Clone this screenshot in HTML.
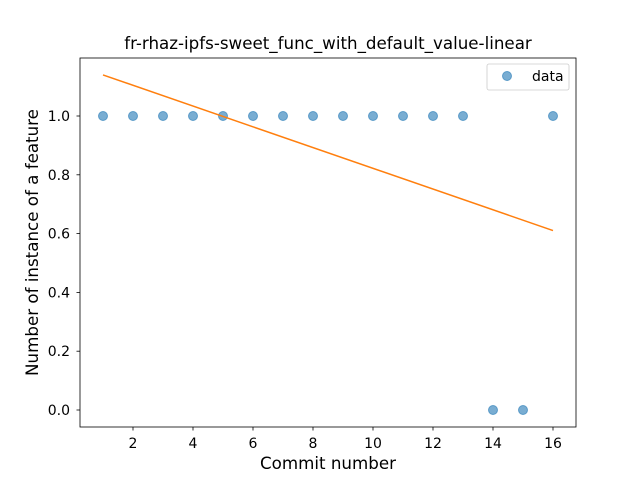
<!DOCTYPE html>
<html><head><meta charset="utf-8"><style>
html,body{margin:0;padding:0;background:#fff;}
svg{display:block;font-family:"DejaVu Sans","Liberation Sans",sans-serif;}
</style></head><body>
<svg id="chart" width="640" height="480" xmlns="http://www.w3.org/2000/svg">
<rect width="640" height="480" fill="#fff"/>
<text x="328" y="49" text-anchor="middle" font-size="16.7">fr-rhaz-ipfs-sweet_func_with_default_value-linear</text>
<g id="plot"></g>
<rect x="80" y="58" width="496" height="369" fill="none" stroke="#000" stroke-width="0.8"/>
<text x="328" y="469" text-anchor="middle" font-size="16.7">Commit number</text>
<text transform="translate(38,242.5) rotate(-90)" text-anchor="middle" font-size="16.7">Number of instance of a feature</text>
<g>
<rect x="487" y="64" width="82" height="26" rx="2" fill="#fff" stroke="#ccc" stroke-width="0.8"/>
<circle cx="507" cy="76" r="4.5" fill="#1f77b4" fill-opacity="0.6" stroke="#1f77b4" stroke-opacity="0.6"/>
<text x="532" y="81" font-size="14">data</text>
</g>
</svg>
<script>
const commits = [1,2,3,4,5,6,7,8,9,10,11,12,13,14,15,16];
const values = [1,1,1,1,1,1,1,1,1,1,1,1,1,0,0,1];
const xTicks = [2,4,6,8,10,12,14,16];
const yTicks = [0.0,0.2,0.4,0.6,0.8,1.0];
const yTickLabels = ["0.0","0.2","0.4","0.6","0.8","1.0"];

const NS = "http://www.w3.org/2000/svg";
const X = v => 103 + (v - 1) * 30;
const Y = v => 410 - v * 294;
const g = document.getElementById('plot');
function mk(tag, attrs){const e=document.createElementNS(NS,tag);for(const k in attrs)e.setAttribute(k,attrs[k]);return e;}

xTicks.forEach((t,i)=>{
  const l=mk('line',{x1:X(t),x2:X(t),y1:427,y2:430.5,stroke:'#000','stroke-width':0.8});
  
  
  g.appendChild(l);
  const tx=mk('text',{x:X(t),y:448,'text-anchor':'middle','font-size':14});
  
  
  tx.textContent=String(t);g.appendChild(tx);
});
yTicks.forEach((t,i)=>{
  const l=mk('line',{x1:76.5,x2:80,y1:Y(t),y2:Y(t),stroke:'#000','stroke-width':0.8});
  
  
  g.appendChild(l);
  const tx=mk('text',{x:70,y:Y(t)+5,'text-anchor':'end','font-size':14});
  
  
  tx.textContent=yTickLabels[i];g.appendChild(tx);
});

commits.forEach((c,i)=>{
  const p=mk('circle',{cx:X(c),cy:Y(values[i]),r:4.5,fill:'#1f77b4','fill-opacity':0.6,stroke:'#1f77b4','stroke-opacity':0.6});
  
  
  g.appendChild(p);
});

// least-squares linear fit
const n=commits.length;
const mx=commits.reduce((a,b)=>a+b,0)/n, my=values.reduce((a,b)=>a+b,0)/n;
let sxy=0,sxx=0;commits.forEach((c,i)=>{sxy+=(c-mx)*(values[i]-my);sxx+=(c-mx)*(c-mx);});
const slope=sxy/sxx, icpt=my-slope*mx;
const x0=commits[0], x1=commits[n-1];
const fl=mk('line',{x1:X(x0),y1:Y(icpt+slope*x0),x2:X(x1),y2:Y(icpt+slope*x1),stroke:'#ff7f0e','stroke-width':1.5});


g.appendChild(fl);
</script>
</body></html>
